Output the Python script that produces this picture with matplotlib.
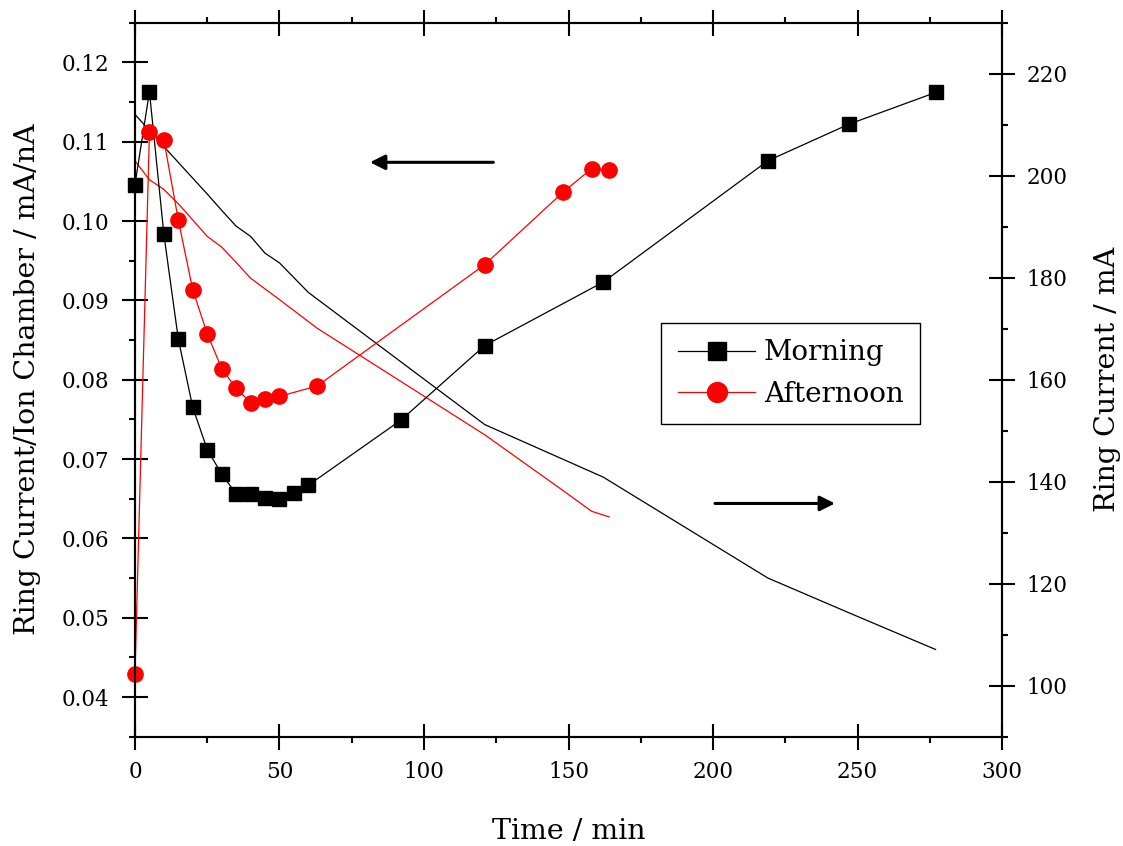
import matplotlib
matplotlib.use("Agg")
import matplotlib.pyplot as plt
from matplotlib.ticker import MultipleLocator, FormatStrFormatter

# Ion chamber normalised ring current (left axis)
morning_t = [0, 5, 10, 15, 20, 25, 30, 35, 40, 45, 50, 55, 60, 92, 121, 162, 219, 247, 277]
morning_ratio = [0.1046, 0.1163, 0.0983, 0.0851, 0.0765, 0.0712, 0.0681, 0.0656, 0.0656,
                 0.0651, 0.0650, 0.0657, 0.0667, 0.0749, 0.0843, 0.0923, 0.1076, 0.1122, 0.1162]

afternoon_t = [0, 5, 10, 15, 20, 25, 30, 35, 40, 45, 50, 63, 121, 148, 158, 164]
afternoon_ratio = [0.0429, 0.1112, 0.1102, 0.1001, 0.0913, 0.0858, 0.0814, 0.0789, 0.0771,
                   0.0776, 0.0779, 0.0792, 0.0945, 0.1036, 0.1066, 0.1064]

# Ring current (right axis)
morning_ring = [212.0, 208.9, 205.7, 202.6, 199.5, 196.4, 193.2, 190.1, 188.1, 184.8, 182.9,
                180.0, 177.1, 163.5, 151.2, 140.9, 121.1, 114.3, 107.1]
afternoon_ring = [202.9, 199.2, 197.3, 194.5, 191.3, 188.1, 186.0, 183.0, 179.9, 177.8, 175.7,
                  170.1, 149.2, 138.3, 134.2, 133.1]

plt.rcParams["font.family"] = ["DejaVu Serif"]


def style_ticks(axis_obj, which_sides):
    axis_obj.tick_params(which="major", direction="inout", length=19, width=1.5,
                         labelsize=15.5, **which_sides)
    axis_obj.tick_params(which="minor", direction="out", length=4.5, width=1.5, **which_sides)


def run():
    fig = plt.figure(figsize=(11.23, 8.46), dpi=100)
    ax = fig.add_axes([0.1202, 0.1292, 0.7721, 0.8440])
    ax2 = ax.twinx()

    # ring current lines on the right axis
    ax2.plot(morning_t, morning_ring, color="black", lw=0.9)
    ax2.plot(afternoon_t, afternoon_ring, color="#ff0000", lw=0.9)

    ax.plot(morning_t, morning_ratio, color="black", lw=0.9, marker="s", ms=10,
            label="Morning", clip_on=False)
    ax.plot(afternoon_t, afternoon_ratio, color="#ff0000", lw=0.9, marker="o", ms=11,
            label="Afternoon", clip_on=False)

    ax.set_zorder(ax2.get_zorder() + 1)
    ax.patch.set_visible(False)

    ax.set_xlim(0, 300)
    ax.set_ylim(0.035, 0.125)
    ax2.set_ylim(90, 230)

    ax.xaxis.set_major_locator(MultipleLocator(50))
    ax.xaxis.set_minor_locator(MultipleLocator(25))
    ax.yaxis.set_major_locator(MultipleLocator(0.01))
    ax.yaxis.set_minor_locator(MultipleLocator(0.005))
    ax.yaxis.set_major_formatter(FormatStrFormatter("%.2f"))
    ax2.yaxis.set_major_locator(MultipleLocator(20))
    ax2.yaxis.set_minor_locator(MultipleLocator(10))

    style_ticks(ax, dict(bottom=True, top=True, left=True, right=False))
    ax.tick_params(axis="x", which="major", pad=8)
    ax.tick_params(axis="y", which="major", pad=9)
    style_ticks(ax2, dict(left=False, right=True, top=False, bottom=False))
    ax2.tick_params(axis="y", which="major", pad=8)
    ax2.tick_params(axis="x", which="both", bottom=False, top=False,
                    labelbottom=False, labeltop=False)

    for a in (ax, ax2):
        for sp in a.spines.values():
            sp.set_linewidth(1.5)

    ax.set_xlabel("Time / min", fontsize=20.5, labelpad=25)
    ax.set_ylabel("Ring Current/Ion Chamber / mA/nA", fontsize=20.5, labelpad=15)
    ax2.set_ylabel("Ring Current / mA", fontsize=20.5, labelpad=19)

    # direction arrows
    ax.annotate("", xy=(81.3, 0.1074), xytext=(124, 0.1074),
                arrowprops=dict(arrowstyle="-|>,head_length=0.9,head_width=0.45",
                                color="black", lw=2.2, shrinkA=0, shrinkB=0))
    ax.annotate("", xy=(242.2, 0.0644), xytext=(200.7, 0.0644),
                arrowprops=dict(arrowstyle="-|>,head_length=0.9,head_width=0.45",
                                color="black", lw=2.2, shrinkA=0, shrinkB=0))

    leg = ax.legend(loc="upper left", bbox_to_anchor=(0.6067, 0.5798), borderaxespad=0,
                    fontsize=20, fancybox=False, edgecolor="black", framealpha=1,
                    handlelength=2.8, handletextpad=0.3, borderpad=0.6,
                    labelspacing=0.52, markerscale=1.3)
    leg.get_frame().set_linewidth(1.0)

    fig.savefig("out.png", dpi=100)


if __name__ == "__main__":
    run()
